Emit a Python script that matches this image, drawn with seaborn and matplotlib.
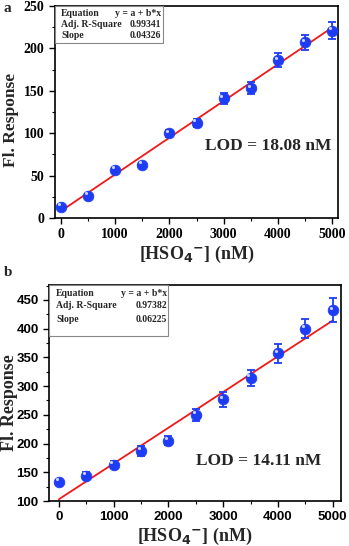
import numpy as np
import pandas as pd
import matplotlib
matplotlib.use("Agg")
import matplotlib.pyplot as plt
from matplotlib.ticker import MultipleLocator
import seaborn as sns

sns.set_theme(style="ticks")
plt.rcParams['font.family'] = ['Liberation Serif', 'DejaVu Serif']

conc = [0, 500, 1000, 1500, 2000, 2500, 3000, 3500, 4000, 4500, 5000]
resp_a = [13, 26, 57, 63, 100, 112, 141, 153, 186, 207, 221]
err_a = [2, 2, 2, 2, 4, 5, 6, 7, 8, 9, 10]
resp_b = [133, 144, 163, 187, 205, 250, 277, 314, 357, 400, 432]
err_b = [3, 6, 6, 9, 8, 10, 13, 14, 16, 17, 21]

fit_a = {"intercept": 8.2, "slope": 0.04326, "r2": "0.99341", "slope_txt": "0.04326"}
fit_b = {"intercept": 103.0, "slope": 0.06225, "r2": "0.97382", "slope_txt": "0.06225"}
lod_a = "LOD = 18.08 nM"
lod_b = "LOD = 14.11 nM"
panel_labels = ["a", "b"]

W, H = 349, 546
fig = plt.figure(figsize=(W / 100, H / 100), dpi=100)

def rect(l, t, r, b):
    return [l / W, 1 - b / H, (r - l) / W, (b - t) / H]

A1 = (55, 6, 338, 218)
A2 = (49, 285, 341, 501)
ax1 = fig.add_axes(rect(*A1))
ax2 = fig.add_axes(rect(*A2))

blue = "#1f3cf5"
red = "#f01818"

def draw(ax, box_px, resp, err, fit, lod, xlim, ylim, ymaj, ymin, tickfont, box, lodpos, ylab):
    df = pd.DataFrame({"x": conc, "y": resp, "e": err})
    xs = np.array([conc[0], conc[-1]])
    fl = pd.DataFrame({"x": xs, "y": fit["intercept"] + fit["slope"] * xs})
    sns.lineplot(data=fl, x="x", y="y", ax=ax, color=red, lw=1.3, zorder=2)
    ax.errorbar(df["x"], df["y"], yerr=df["e"], fmt="none", ecolor=blue,
                elinewidth=1.3, capsize=3, capthick=1.3, zorder=3)
    sns.scatterplot(data=df, x="x", y="y", ax=ax, color=blue, s=60,
                    edgecolor=blue, linewidth=0.5, zorder=4)
    ax.scatter(df["x"] - 40, df["y"] + 0.012 * (ylim[1] - ylim[0]), s=5,
               color="#c8d4ff", zorder=5, linewidths=0)
    ax.set_xlim(*xlim)
    ax.set_ylim(*ylim)
    ax.xaxis.set_major_locator(MultipleLocator(1000))
    ax.xaxis.set_minor_locator(MultipleLocator(500))
    ax.yaxis.set_major_locator(MultipleLocator(ymaj))
    ax.yaxis.set_minor_locator(MultipleLocator(ymin))
    ax.tick_params(which="major", direction="out", length=4, width=1, colors="black")
    ax.tick_params(which="minor", direction="out", length=2.5, width=0.8, colors="black")
    for lab in ax.get_xticklabels() + ax.get_yticklabels():
        lab.set_fontfamily(tickfont[0])
        lab.set_fontweight("bold")
        lab.set_fontsize(tickfont[1])
    for s in ax.spines.values():
        s.set_visible(True)
        s.set_linewidth(1.2)
        s.set_color("black")
    ax.set_xlabel(r"[HSO$_\mathbf{4}$$^\mathbf{-}$] (nM)", fontsize=13, fontweight="bold", labelpad=2)
    ylx, ylcy, ylfs = ylab
    ax.set_ylabel("Fl. Response", fontsize=ylfs, fontweight="bold")
    l, t, r, b = box_px
    ax.yaxis.set_label_coords((ylx - l) / (r - l), (b - ylcy) / (b - t))
    # table box
    bl, bt, br, bb, rows, xl, xr = box
    tr = ax.transAxes.inverted()
    def ac(px, py):
        return tr.transform(fig.transFigure.transform((px / W, 1 - py / H)))
    p0 = ac(bl, bb); p1 = ac(br, bt)
    ax.add_patch(plt.Rectangle(p0, p1[0] - p0[0], p1[1] - p0[1], transform=ax.transAxes,
                               facecolor="white", edgecolor="#888888", lw=0.8, zorder=6))
    labels = [("Equation", "y = a + b*x"), ("Adj. R-Square", fit["r2"]), ("Slope", fit["slope_txt"])]
    for (lt, rt), py in zip(labels, rows):
        a = ac(xl, py); b2 = ac(xr, py)
        ax.text(a[0], a[1], lt, transform=ax.transAxes, fontsize=7, fontweight="bold",
                ha="left", va="center", zorder=7)
        ax.text(b2[0], b2[1], rt, transform=ax.transAxes, fontsize=7, fontweight="bold",
                ha="right", va="center", zorder=7)
    lp = ac(*lodpos)
    ax.text(lp[0], lp[1], lod, transform=ax.transAxes, fontsize=12.5, fontweight="bold",
            ha="center", va="center")

draw(ax1, A1, resp_a, err_a, fit_a, lod_a, (-110, 5110), (0, 250), 50, 25,
     ("Liberation Serif", 10), (55, 6, 163, 43, [13, 24.5, 36], 61, 161), (268, 146),
     (19, 120, 12.5))
draw(ax2, A2, resp_b, err_b, fit_b, lod_b, (-180, 5150), (100, 476), 50, 25,
     ("Liberation Sans", 9.5), (49, 285, 168, 336, [293, 306, 319], 56, 167), (259, 461),
     (18, 403, 13))

fig.text(4 / W, 1 - 8 / H, panel_labels[0], fontsize=11, fontweight="bold", ha="left", va="center")
fig.text(4 / W, 1 - 272 / H, panel_labels[1], fontsize=11, fontweight="bold", ha="left", va="center")

fig.savefig("out.png", dpi=100, facecolor="white")
